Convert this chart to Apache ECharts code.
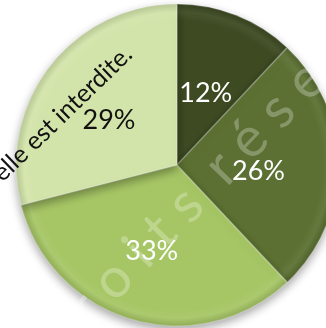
<!DOCTYPE html>
<html>
<head>
<meta charset="utf-8">
<script src="https://cdn.jsdelivr.net/npm/echarts@6/dist/echarts.min.js"></script>
<style>
  html, body { margin: 0; padding: 0; background: #ffffff; }
  #chart { width: 326px; height: 328px; }
</style>
</head>
<body>
<div id="chart"></div>
<script>
// Slice shares, in percent, drawn clockwise from twelve o'clock
const shares = [12, 26, 33, 29];
const sliceNames = ['Part 1', 'Part 2', 'Part 3', 'Part 4'];
const sliceColors = ['#3d4a22', '#5b7032', '#a6c665', '#d3e4aa'];
const labelColors = ['#ffffff', '#ffffff', '#ffffff', '#111111'];

// Overlaid notice texts
const watermarkText = 'd r o i t s  r é s e r v é s';
const noticeText = 'elle est interdite.';

const chart = echarts.init(document.getElementById('chart'), null, { renderer: 'canvas' });

const deg = Math.PI / 180;
const CX = 177, CY = 165, R = 161;

// Darken (f < 1) or lighten (f > 1) a hex colour
function shade(hex, f) {
  const n = parseInt(hex.slice(1), 16);
  const ch = [(n >> 16) & 255, (n >> 8) & 255, n & 255].map(c =>
    Math.max(0, Math.min(255, Math.round(f > 1 ? c + (255 - c) * (f - 1) : c * f))));
  return 'rgb(' + ch.join(',') + ')';
}

// Radial fill giving each slice a soft bevelled rim
function sliceFill(hex) {
  return {
    type: 'radial', x: CX, y: CY, r: R, global: true,
    colorStops: [
      { offset: 0, color: hex },
      { offset: 0.9, color: hex },
      { offset: 0.95, color: shade(hex, 1.06) },
      { offset: 1, color: shade(hex, 0.88) }
    ]
  };
}

chart.setOption({
  animation: false,
  backgroundColor: '#ffffff',
  series: [{
    type: 'pie',
    center: [CX, CY],
    radius: R,
    startAngle: 90,
    clockwise: true,
    avoidLabelOverlap: false,
    itemStyle: {
      borderColor: 'rgba(255,255,255,0.22)',
      borderWidth: 1.5,
      shadowBlur: 10,
      shadowOffsetY: 4,
      shadowColor: 'rgba(0,0,0,0.35)'
    },
    label: {
      show: true,
      position: 'inside',
      fontFamily: 'Lato',
      fontSize: 27,
      formatter: p => p.value + '%'
    },
    labelLayout: { dx: -2, dy: 6 },
    labelLine: { show: false },
    emphasis: { disabled: true },
    data: shares.map((v, i) => ({
      name: sliceNames[i],
      value: v,
      itemStyle: { color: sliceFill(sliceColors[i]) },
      label: { color: labelColors[i] }
    }))
  }],
  graphic: [
    {
      type: 'text',
      x: 46,
      y: 349,
      rotation: 46 * deg,
      z: 100,
      silent: true,
      style: {
        text: watermarkText,
        fontFamily: 'Lato',
        fontSize: 56,
        fill: 'rgba(255,255,255,0.27)',
        align: 'left',
        verticalAlign: 'middle'
      }
    },
    {
      type: 'text',
      x: -3,
      y: 177,
      rotation: 44 * deg,
      z: 100,
      silent: true,
      style: {
        text: noticeText,
        fontFamily: 'Lato',
        fontSize: 25,
        fill: '#111111',
        align: 'left',
        verticalAlign: 'middle'
      }
    }
  ]
});
</script>
</body>
</html>
